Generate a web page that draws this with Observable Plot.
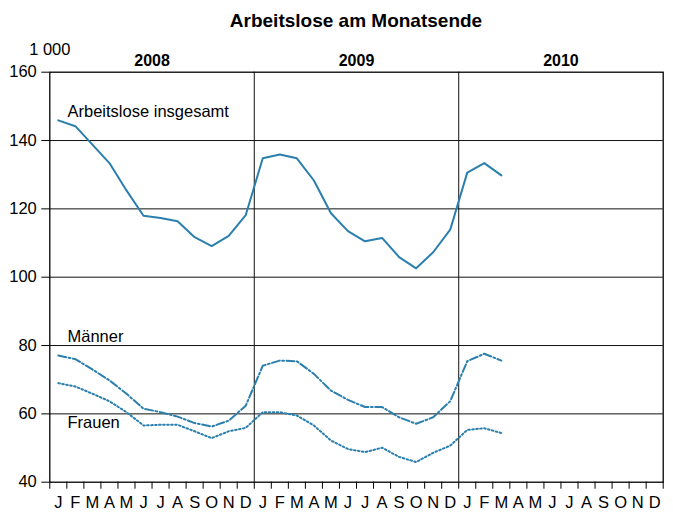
<!DOCTYPE html>
<html>
<head>
<meta charset="utf-8">
<script src="https://cdn.jsdelivr.net/npm/d3@7"></script>
<script src="https://cdn.jsdelivr.net/npm/@observablehq/plot@0.6"></script>
<style>
  body { margin: 0; background: #fff; font-family: "Liberation Sans", Arial, sans-serif; }
  #title { height: 31px; padding-top: 5px; line-height: 31px; padding-left: 49px; padding-right: 10px;
           text-align: center; font-weight: bold; font-size: 19px; color: #000; }
</style>
</head>
<body>
<div id="title">Arbeitslose am Monatsende</div>
<div id="chart"></div>
<script>
const monthLabels = ["J","F","M","A","M","J","J","A","S","O","N","D"];
const years = ["2008","2009","2010"];
const yTicks = [40, 60, 80, 100, 120, 140, 160];

// Jan 2008 – Mar 2010, in 1 000
const insgesamt = [145.9,144.2,138.8,133.4,125.4,118.0,117.3,116.4,111.7,109.1,112.1,118.2,
                   134.8,135.9,134.8,128.3,118.7,113.5,110.5,111.5,105.9,102.6,107.3,113.9,
                   130.6,133.4,129.8];
const maenner   = [77.1,76.0,73.0,69.8,65.9,61.5,60.5,59.2,57.3,56.3,58.0,62.4,
                   74.1,75.6,75.4,71.7,66.8,64.1,62.0,62.0,59.0,57.1,59.0,63.7,
                   75.4,77.6,75.6];
const frauen    = [69.0,68.0,65.9,63.7,60.5,56.6,56.8,56.8,54.9,52.9,54.9,55.9,
                   60.5,60.5,59.5,56.6,52.2,49.7,48.8,50.1,47.4,45.9,48.6,50.7,
                   55.3,55.8,54.4];

const seriesLabels = [
  {text: "Arbeitslose insgesamt", x: 1.04, y: 148.3},
  {text: "Männer", x: 1.04, y: 82.6},
  {text: "Frauen", x: 1.04, y: 57.3}
];

const toRows = arr => arr.map((v, i) => ({i, v}));
const color = "#2a7fad";

const chart = Plot.plot({
  width: 673,
  height: 476,
  marginLeft: 49.3,
  marginRight: 10.3,
  marginTop: 35.7,
  marginBottom: 30.3,
  style: {fontFamily: "Liberation Sans, Arial, sans-serif", color: "#000", background: "#fff"},
  x: {type: "linear", domain: [0, 36]},
  y: {domain: [40, 160]},
  marks: [
    Plot.ruleY([60, 80, 100, 120, 140], {stroke: "#111", strokeWidth: 1}),
    Plot.ruleX([12, 24], {stroke: "#111", strokeWidth: 1}),
    Plot.frame({stroke: "#000", strokeWidth: 1.3}),
    Plot.axisY({ticks: yTicks, tickSize: 8, tickPadding: 5, fontSize: 16.5, label: null, stroke: "#000", strokeOpacity: 1}),
    Plot.axisX({ticks: d3.range(0, 37), tickSize: 7, tickFormat: () => "", label: null, stroke: "#000", strokeOpacity: 1}),
    Plot.axisX({ticks: d3.range(36).map(i => i + 0.5), tickSize: 0, tickPadding: 14,
                tickFormat: d => monthLabels[Math.floor(d) % 12], fontSize: 16.5, label: null}),
    Plot.line(toRows(insgesamt), {x: d => d.i + 0.5, y: "v", stroke: color, strokeWidth: 2}),
    Plot.line(toRows(maenner), {x: d => d.i + 0.5, y: "v", stroke: color, strokeWidth: 2,
                                strokeDasharray: "8,2.5,1.8,2.5"}),
    Plot.line(toRows(frauen), {x: d => d.i + 0.5, y: "v", stroke: color, strokeWidth: 2,
                               strokeDasharray: "1.6,2.4"}),
    Plot.text(seriesLabels, {x: "x", y: "y", text: "text", textAnchor: "start", fontSize: 16.5, fill: "#000"}),
    Plot.text(years, {x: (d, i) => 6 + 12 * i, y: 163.4, text: d => d, fontWeight: "bold", fontSize: 16, fill: "#000"}),
    Plot.text(["1 000"], {x: 0, y: 166.6, text: d => d, fontSize: 16.5, fill: "#000"})
  ]
});
document.getElementById("chart").appendChild(chart);
</script>
</body>
</html>
